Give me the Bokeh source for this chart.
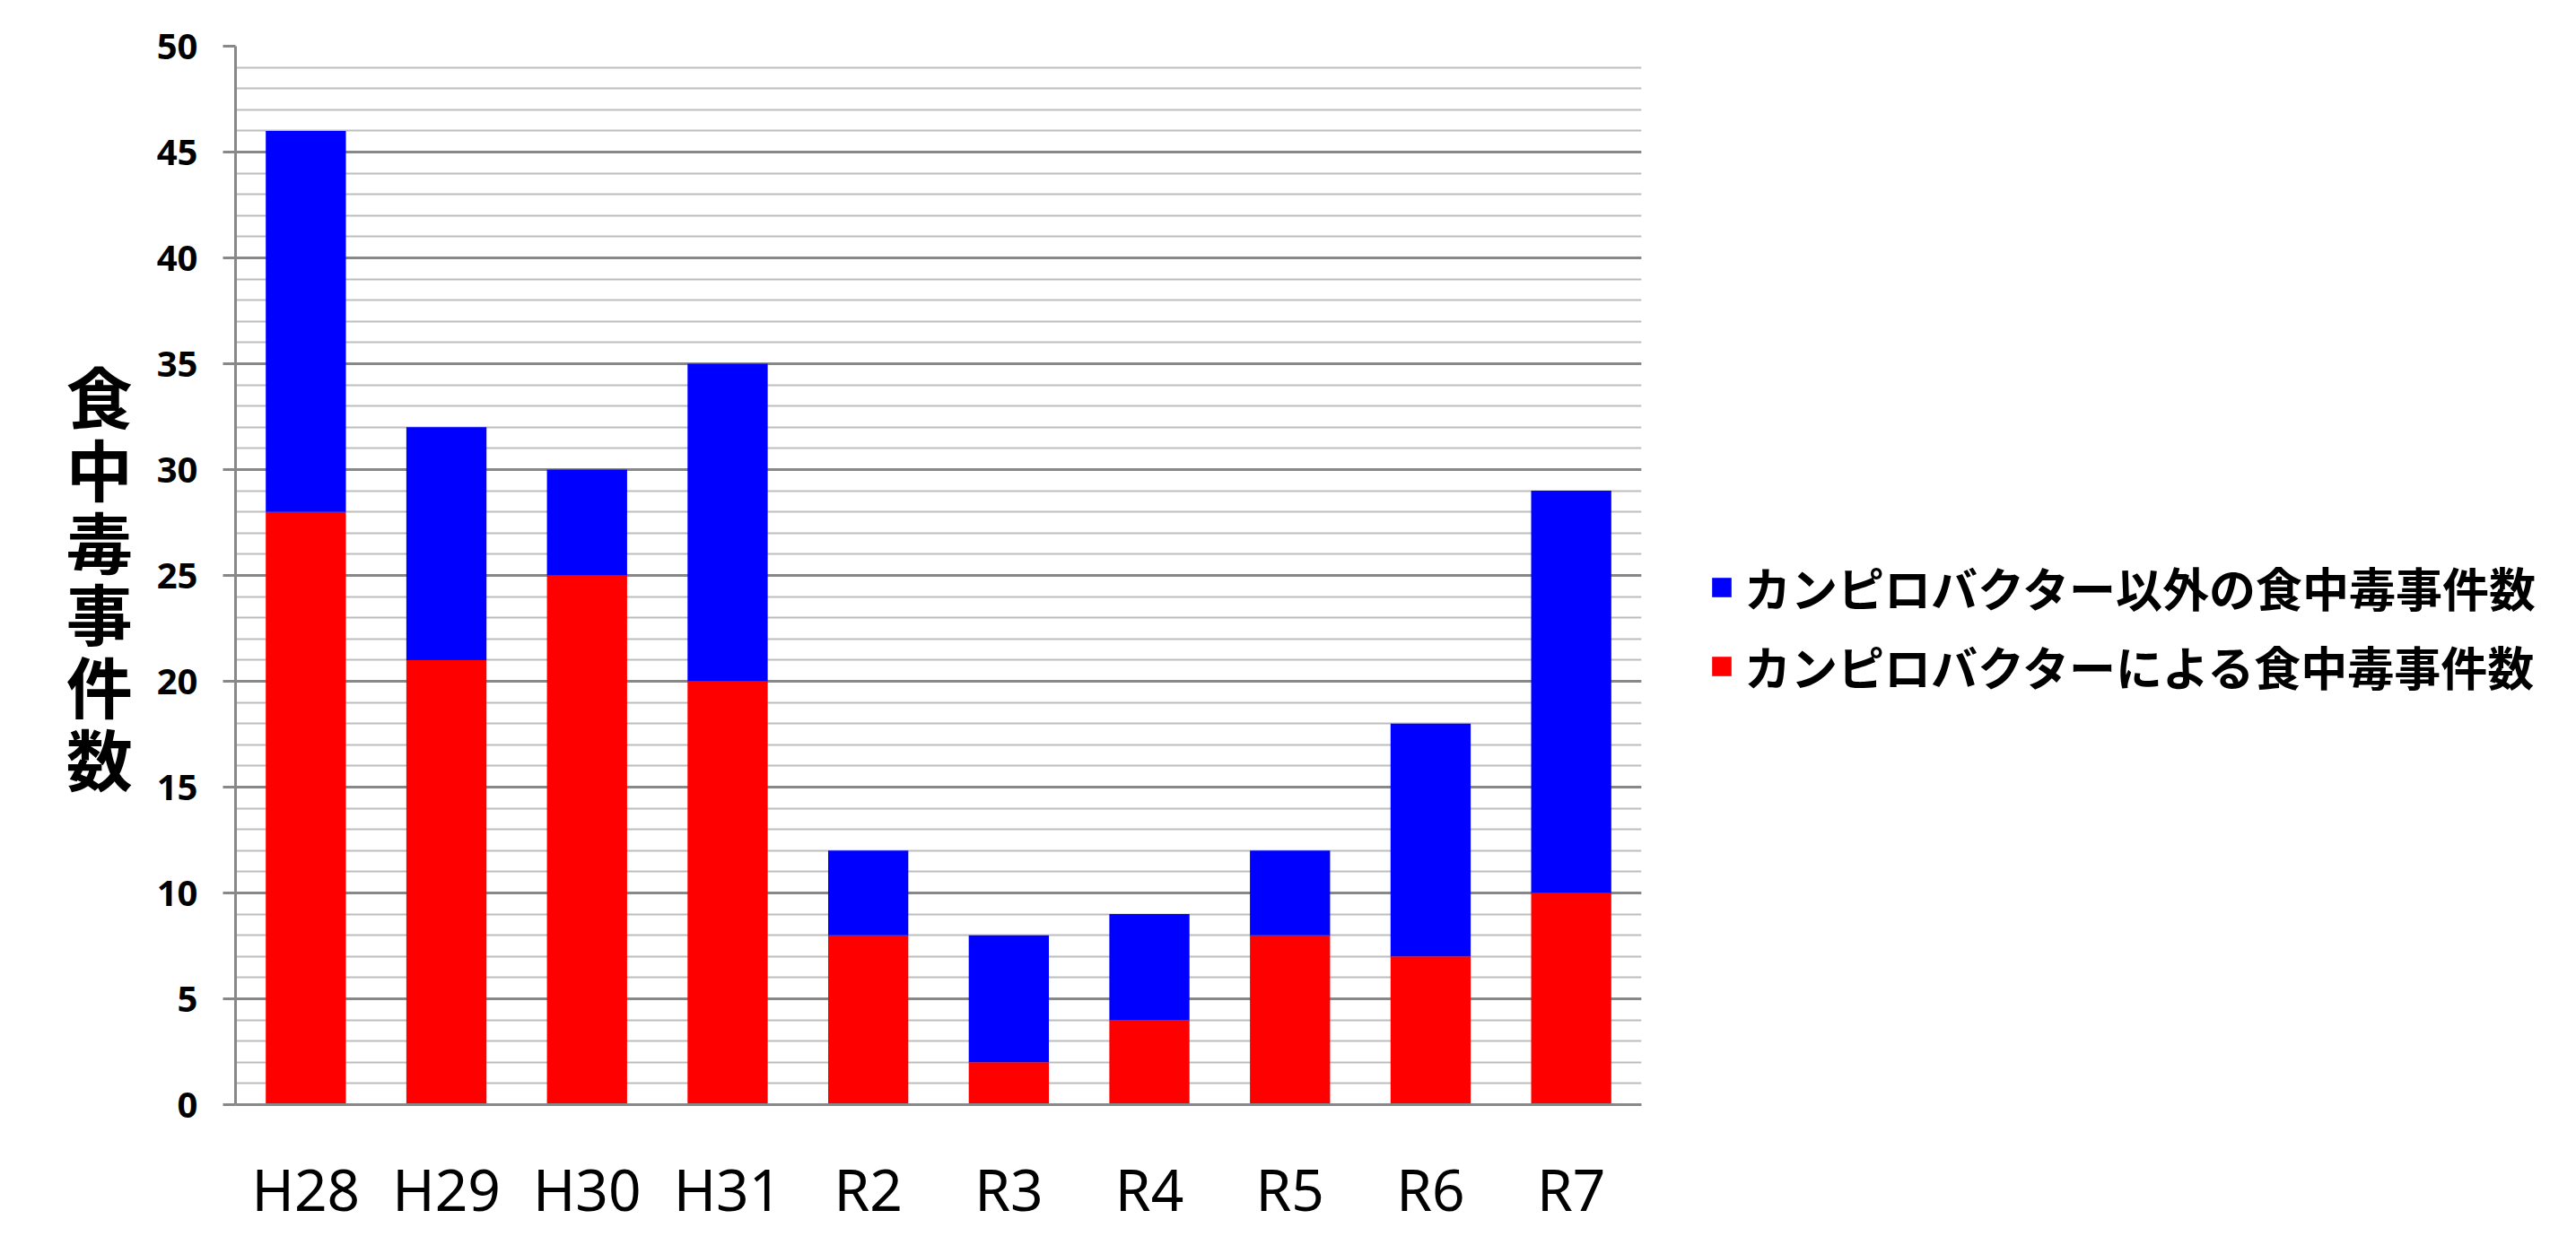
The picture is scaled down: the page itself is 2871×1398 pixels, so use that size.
from bokeh.plotting import figure
from bokeh.layouts import row
from bokeh.models import (FactorRange, Range1d, SingleIntervalTicker, Legend, LegendItem,
                          ColumnDataSource)
from bokeh.transform import dodge
from bokeh.embed import file_html
from bokeh.resources import INLINE

categories = ["H28", "H29", "H30", "H31", "R2", "R3", "R4", "R5", "R6", "R7"]
campylobacter = [28, 21, 25, 20, 8, 2, 4, 8, 7, 10]
other = [18, 11, 5, 15, 4, 6, 5, 4, 11, 19]
series_names = ["campylobacter", "other"]
legend_labels = ["カンピロバクター以外の食中毒事件数", "カンピロバクターによる食中毒事件数"]
y_label = "食\n中\n毒\n事\n件\n数"
colors = ["#ff0000", "#0000ff"]

W, H = 2855, 1382
W1 = 1839
p = figure(x_range=FactorRange(*categories), y_range=Range1d(0, 50),
           width=W1, height=H, output_backend="svg", toolbar_location=None,
           min_border_left=262, min_border_top=51, min_border_right=W1 - 1829,
           min_border_bottom=H - 1231)
p.outline_line_color = None
p.background_fill_color = "white"
p.border_fill_color = "white"

data = dict(x=categories, campylobacter=campylobacter, other=other)
rs = p.vbar_stack(series_names, x="x", width=0.57, source=data,
                  color=colors, line_color=None)

# y axis
p.yaxis.ticker = SingleIntervalTicker(interval=5, num_minor_ticks=5)
p.yaxis.axis_line_color = "#888888"
p.yaxis.axis_line_width = 3
p.yaxis.major_tick_line_color = "#888888"
p.yaxis.major_tick_line_width = 3
p.yaxis.major_tick_out = 14
p.yaxis.major_tick_in = 0
p.yaxis.minor_tick_line_color = None
p.yaxis.major_label_text_font = "Noto Sans"
p.yaxis.major_label_text_font_style = "bold"
p.yaxis.major_label_text_font_size = "40px"
p.yaxis.major_label_text_color = "black"
p.yaxis.major_label_standoff = 28
p.yaxis.axis_label = y_label
p.yaxis.axis_label_orientation = "horizontal"
p.yaxis.axis_label_text_font = "Noto Sans CJK JP"
p.yaxis.axis_label_text_font_style = "bold"
p.yaxis.axis_label_text_font_size = "74px"
p.yaxis.axis_label_text_line_height = 0.755
p.yaxis.axis_label_text_color = "black"
p.yaxis.axis_label_standoff = 24

# x axis
p.xaxis.axis_line_color = "#888888"
p.xaxis.axis_line_width = 3
p.xaxis.major_tick_line_color = None
p.xaxis.minor_tick_line_color = None
p.xaxis.major_label_text_font = "Noto Sans"
p.xaxis.major_label_text_font_size = "64px"
p.xaxis.major_label_text_color = "black"
p.xaxis.major_label_standoff = 44

# grid
p.xgrid.grid_line_color = None
p.ygrid.grid_line_color = "#888888"
p.ygrid.grid_line_width = 3
p.ygrid.minor_grid_line_color = "#bdbdbd"
p.ygrid.minor_grid_line_width = 2

# legend panel (separate figure; its bars are shifted far outside its view,
# only the legend is visible)
W2 = W - W1
p2 = figure(x_range=FactorRange(*categories), y_range=Range1d(1000, 1001),
            width=W2, height=H, output_backend="svg", toolbar_location=None,
            x_axis_type=None, y_axis_type=None, min_border=0)
p2.outline_line_color = None
p2.xgrid.grid_line_color = None
p2.ygrid.grid_line_color = None
src2 = ColumnDataSource(data)
rs2 = p2.vbar_stack(series_names, x=dodge("x", 60, range=p2.x_range), width=0.57,
                    source=src2, color=colors, line_color=None)

legend = Legend(items=[LegendItem(label=legend_labels[0], renderers=[rs2[1]]),
                       LegendItem(label=legend_labels[1], renderers=[rs2[0]])],
                location=(66, 451))
legend.border_line_color = None
legend.background_fill_alpha = 0
legend.padding = 0
legend.margin = 0
legend.glyph_width = 27
legend.glyph_height = 27
legend.label_height = 60
legend.spacing = 13
legend.label_standoff = 12
legend.label_text_font = "Noto Sans CJK JP"
legend.label_text_font_style = "bold"
legend.label_text_font_size = "52px"
legend.label_text_color = "black"
p2.add_layout(legend)

layout = row(p, p2, spacing=0)
open("out.html", "w").write(file_html(layout, INLINE))
